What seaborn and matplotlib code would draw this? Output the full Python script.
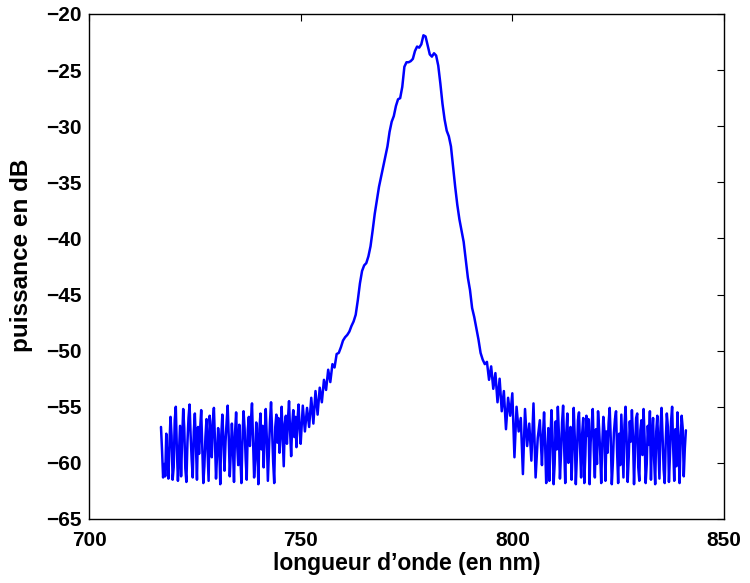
import numpy as np
import pandas as pd
import seaborn as sns
import matplotlib.pyplot as plt

# plancher de bruit gauche : 717 -> 749.75 nm, pas 0.25 nm
left_start, left_step = 717.0, 0.25
power_left = [
    -56.8, -58.9, -61.3, -60.1, -61.2, -57.4, -59.8, -61.4, -58.3, -55.9,
    -57.6, -61.5, -60.4, -56.2, -55.0, -58.8, -61.6, -59.1, -56.7, -61.2,
    -57.9, -55.2, -56.9, -60.5, -61.7, -58.2, -56.0, -54.8, -57.5, -59.7,
    -61.3, -57.2, -55.6, -58.4, -61.5, -56.8, -59.2, -57.0, -55.3, -58.6,
    -61.8, -60.3, -57.7, -56.1, -58.9, -61.6, -55.8, -57.4, -59.5, -56.3,
    -55.1, -58.0, -61.4, -59.3, -56.9, -58.2, -61.9, -57.5, -55.7, -57.9,
    -60.7, -58.1, -56.4, -54.9, -57.6, -61.2, -59.0, -56.5, -58.7, -61.7,
    -57.3, -55.5, -58.4, -60.2, -56.6, -59.4, -61.8, -57.8, -55.4, -56.9,
    -59.6, -61.5, -57.1, -55.9, -58.5, -56.2, -54.7, -57.9, -61.3, -59.8,
    -56.4, -58.1, -61.9, -57.0, -55.6, -58.8, -56.7, -60.4, -57.5, -55.2,
    -57.8, -61.6, -58.9, -56.3, -54.6, -57.1, -59.9, -61.8, -56.8, -55.7,
    -58.2, -56.0, -59.1, -57.4, -55.0, -57.6, -60.3, -56.5, -55.8, -58.3,
    -56.1, -54.5, -57.2, -59.4, -56.6, -55.3, -57.7, -55.9, -58.6, -56.2,
    -54.8, -56.9,
]

# pic : 750 -> 806.5 nm, pas 0.5 nm
peak_start, peak_step = 750.0, 0.5
power_peak = [
    -58.3, -54.9, -57.2, -55.1, -56.8, -54.2, -56.5, -53.6, -55.7, -53.3,
    -54.6, -52.6, -53.5, -51.7, -52.8, -51.2, -51.5, -50.3, -50.2, -49.7,
    -49.1, -48.8, -48.6, -48.3, -47.8, -47.4, -46.8, -45.5, -44.0, -42.9,
    -42.4, -42.2, -41.6, -40.7, -39.3, -37.8, -36.6, -35.4, -34.5, -33.6,
    -32.7, -31.8, -30.5, -29.6, -29.1, -28.2, -27.6, -27.5, -26.5, -24.7,
    -24.3, -24.3, -24.2, -24.0, -23.3, -22.9, -23.0, -22.7, -21.9, -22.0,
    -22.8, -23.6, -23.8, -23.5, -23.7, -24.6, -26.2, -28.0, -29.4, -30.4,
    -30.9, -31.8, -33.6, -35.4, -37.0, -38.3, -39.3, -40.3, -41.9, -43.5,
    -44.6, -46.2, -47.0, -48.0, -49.0, -50.2, -50.8, -51.2, -51.0, -52.6,
    -51.4, -53.4, -52.0, -54.6, -52.5, -55.4, -53.6, -57.0, -54.2, -55.8,
    -53.8, -59.5, -55.0, -57.2, -56.0, -61.0, -55.2, -58.5, -56.5, -59.8,
    -54.7, -61.3, -57.8, -56.2,
]

# plancher de bruit droit : 807 -> 841 nm, pas 0.25 nm
right_start, right_step = 807.0, 0.25
power_right = [
    -60.2, -57.5, -55.5, -58.3, -61.8, -59.6, -56.9, -61.6, -58.0, -55.3,
    -57.6, -61.9, -60.1, -56.3, -58.8, -55.0, -57.4, -61.4, -59.2, -56.4,
    -54.9, -58.7, -61.8, -57.3, -55.6, -60.0, -58.1, -56.8, -61.5, -58.5,
    -55.1, -57.7, -61.9, -59.4, -56.2, -55.5, -58.6, -61.3, -57.4, -56.0,
    -61.8, -59.3, -55.8, -57.6, -56.1, -61.9, -58.2, -56.5, -55.2, -58.9,
    -61.3, -57.0, -60.1, -55.4, -56.9, -59.0, -61.8, -58.3, -55.9, -57.1,
    -61.6, -57.2, -59.1, -56.4, -55.1, -57.8, -61.9, -60.0, -57.3, -56.1,
    -55.4, -59.0, -61.8, -57.4, -60.2, -55.7, -58.4, -61.3, -56.6, -55.0,
    -57.9, -61.7, -59.5, -56.3, -58.1, -55.3, -57.6, -61.9, -58.7, -56.0,
    -55.6, -60.4, -61.6, -57.1, -56.2, -59.3, -55.2, -57.8, -61.8, -60.1,
    -56.7, -58.4, -55.4, -61.5, -57.5, -56.0, -59.7, -61.9, -57.2, -55.8,
    -58.5, -61.4, -56.9, -55.1, -57.7, -60.6, -61.8, -58.0, -55.6, -56.8,
    -61.7, -59.2, -56.3, -55.0, -58.6, -61.6, -57.0, -60.3, -55.5, -57.9,
    -61.8, -58.1, -55.8, -56.9, -61.2, -58.7, -57.1,
]

segments = [
    (left_start, left_step, power_left),
    (peak_start, peak_step, power_peak),
    (right_start, right_step, power_right),
]
df = pd.concat([
    pd.DataFrame({"wavelength": start + step * np.arange(len(p)), "power": p})
    for start, step, p in segments
], ignore_index=True)

sns.set_style("white")
plt.rcParams["font.family"] = ["Liberation Sans", "DejaVu Sans"]
plt.rcParams["font.weight"] = "bold"
plt.rcParams["text.color"] = "black"
plt.rcParams["axes.labelcolor"] = "black"

fig = plt.figure(figsize=(7.5, 5.83), dpi=100)
ax = fig.add_axes([0.1187, 0.1098, 0.8466, 0.8662])

sns.lineplot(data=df, x="wavelength", y="power", ax=ax, color="#0000ff",
             linewidth=1.8, estimator=None, sort=False)

ax.set_xlim(700, 850)
ax.set_ylim(-65, -20)
ax.set_xticks([700, 750, 800, 850])
ax.set_yticks(np.arange(-65, -19, 5))
ax.tick_params(direction="in", length=5, width=0.8, labelsize=15,
               top=True, right=True, colors="black")
ax.tick_params(axis="x", pad=9)
ax.tick_params(axis="y", pad=5)
for lab in ax.get_xticklabels() + ax.get_yticklabels():
    lab.set_fontweight("bold")
for s in ax.spines.values():
    s.set_color("black")
    s.set_linewidth(1.0)

ax.set_xlabel("longueur d\u2019onde (en nm)", fontsize=16.5, fontweight="bold",
              labelpad=1, color="black")
ax.set_ylabel("puissance en dB", fontsize=17.5, fontweight="bold",
              color="black")
ax.yaxis.set_label_coords(-0.088, 0.523)

fig.savefig("out.png", dpi=100)
